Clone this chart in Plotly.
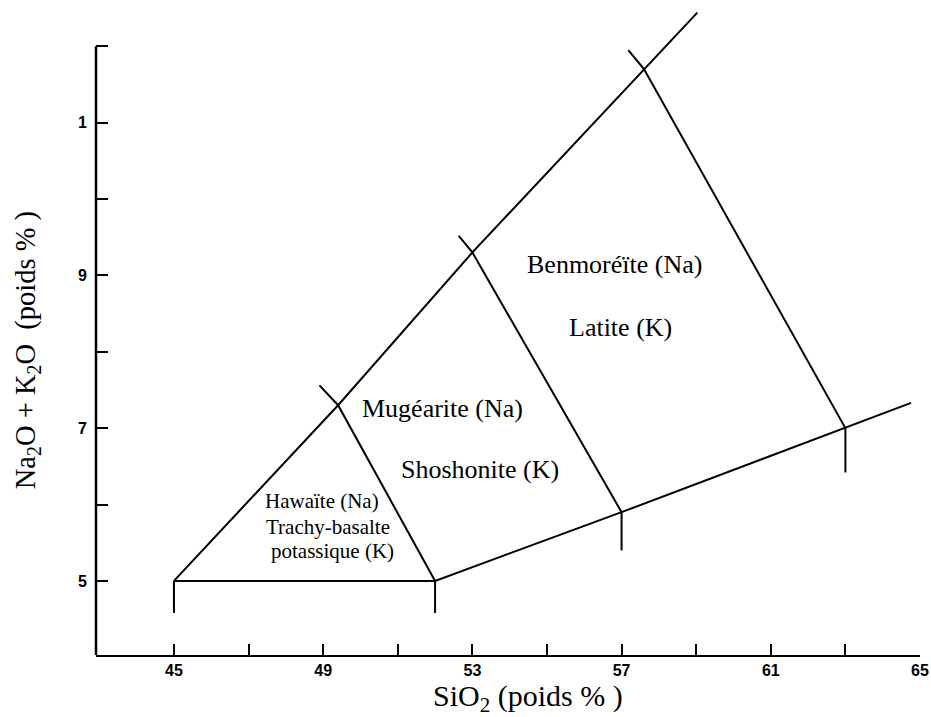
import plotly.graph_objects as go

# --- Boundary lines of the TAS diagram (SiO2 wt%, Na2O+K2O wt%) ---
upper_x = [45, 49.4, 53, 57.6, 59.03]
upper_y = [5, 7.3, 9.3, 11.7, 12.44]

lower_x = [45, 52, 57, 63, 64.76]
lower_y = [5, 5, 5.9, 7, 7.33]

div1_x = [52, 49.4, 48.90]
div1_y = [5, 7.3, 7.56]

div2_x = [57, 53, 52.63]
div2_y = [5.9, 9.3, 9.52]

div3_x = [63, 57.6, 57.18]
div3_y = [7, 11.7, 11.95]

drop_x = [45, 52, 57, 63]
drop_top = [5, 5, 5.9, 7]
drop_bottom = [4.58, 4.58, 5.4, 6.42]

# --- Axis ticks ---
x_major_vals = [45, 49, 53, 57, 61, 65]
x_major_text = ["45", "49", "53", "57", "61", "65"]
x_minor_vals = [47, 51, 55, 59, 63]
y_major_vals = [5, 7, 9, 11]
y_major_text = ["5", "7", "9", "1"]
y_minor_vals = [6, 8, 10, 12]

# --- Field labels ---
big_labels = ["Benmoréïte (Na)", "Latite (K)", "Mugéarite (Na)", "Shoshonite (K)"]
big_label_x = [56.82, 56.98, 52.21, 53.20]
big_label_y = [9.14, 8.32, 7.26, 6.46]

small_labels = ["Hawaïte (Na)", "Trachy-basalte", "potassique (K)"]
small_label_x = [48.97, 49.13, 49.24]
small_label_y = [6.05, 5.71, 5.39]

X_RANGE = [42.91, 65.0]
Y_RANGE = [4.03, 12.5]
Y_AXIS_TOP = 12

line_style = dict(color="black", width=2)

fig = go.Figure()
for xs, ys in [(upper_x, upper_y), (lower_x, lower_y), (div1_x, div1_y),
               (div2_x, div2_y), (div3_x, div3_y)]:
    fig.add_trace(go.Scatter(x=xs, y=ys, mode="lines", line=line_style,
                             hoverinfo="skip", showlegend=False))

for xv, yt, yb in zip(drop_x, drop_top, drop_bottom):
    fig.add_trace(go.Scatter(x=[xv, xv], y=[yt, yb], mode="lines", line=line_style,
                             hoverinfo="skip", showlegend=False))

annotations = []
for t, xv, yv in zip(big_labels, big_label_x, big_label_y):
    annotations.append(dict(text=t, x=xv, y=yv, xref="x", yref="y", showarrow=False,
                            font=dict(family="Liberation Serif", size=26, color="black")))
for t, xv, yv in zip(small_labels, small_label_x, small_label_y):
    annotations.append(dict(text=t, x=xv, y=yv, xref="x", yref="y", showarrow=False,
                            font=dict(family="Liberation Serif", size=21, color="black")))

# axis titles
annotations.append(dict(text="SiO<sub>2</sub> (poids % )", x=54.49, y=0, xref="x", yref="paper",
                        yshift=-43, yanchor="middle", showarrow=False,
                        font=dict(family="Liberation Serif", size=30, color="black")))
annotations.append(dict(text="Na<sub>2</sub>O + K<sub>2</sub>O  (poids % )", x=0, y=8.02,
                        xref="paper", yref="y", xshift=-69, textangle=-90,
                        xanchor="center", yanchor="middle", showarrow=False,
                        font=dict(family="Liberation Serif", size=28.5, color="black")))

fig.update_layout(
    width=931, height=717,
    margin=dict(l=96, r=11, t=8, b=62, autoexpand=False),
    paper_bgcolor="white", plot_bgcolor="white",
    showlegend=False,
    annotations=annotations,
    shapes=[dict(type="line", xref="paper", yref="y", x0=0, x1=0,
                 y0=Y_RANGE[0], y1=Y_AXIS_TOP, line=dict(color="black", width=2.5))],
)

fig.update_xaxes(
    range=X_RANGE, showgrid=False, zeroline=False, automargin=False,
    showline=True, linecolor="black", linewidth=2,
    ticks="inside", ticklen=11, tickwidth=1.5, tickcolor="black",
    tickmode="array", tickvals=x_major_vals,
    ticktext=["<b>%s</b>" % t for t in x_major_text],
    tickfont=dict(family="Liberation Sans", size=16, color="black"),
    ticklabeloverflow="allow",
    minor=dict(ticks="inside", ticklen=11, tickwidth=1.5, tickcolor="black",
               tickmode="array", tickvals=x_minor_vals, showgrid=False),
)
fig.update_yaxes(
    range=Y_RANGE, showgrid=False, zeroline=False, automargin=False,
    showline=False,
    ticks="inside", ticklen=12, tickwidth=1.5, tickcolor="black",
    tickmode="array", tickvals=y_major_vals,
    ticktext=["<b>%s</b>" % t for t in y_major_text],
    tickfont=dict(family="Liberation Sans", size=16, color="black"),
    ticklabelstandoff=8,
    minor=dict(ticks="inside", ticklen=12, tickwidth=1.5, tickcolor="black",
               tickmode="array", tickvals=y_minor_vals, showgrid=False),
)

# Remove the default page margin so the 931x717 figure fills the window exactly.
fig.write_html("out.html",
               config={"displayModeBar": False},
               post_script="document.body.style.margin='0';document.body.style.overflow='hidden';")
